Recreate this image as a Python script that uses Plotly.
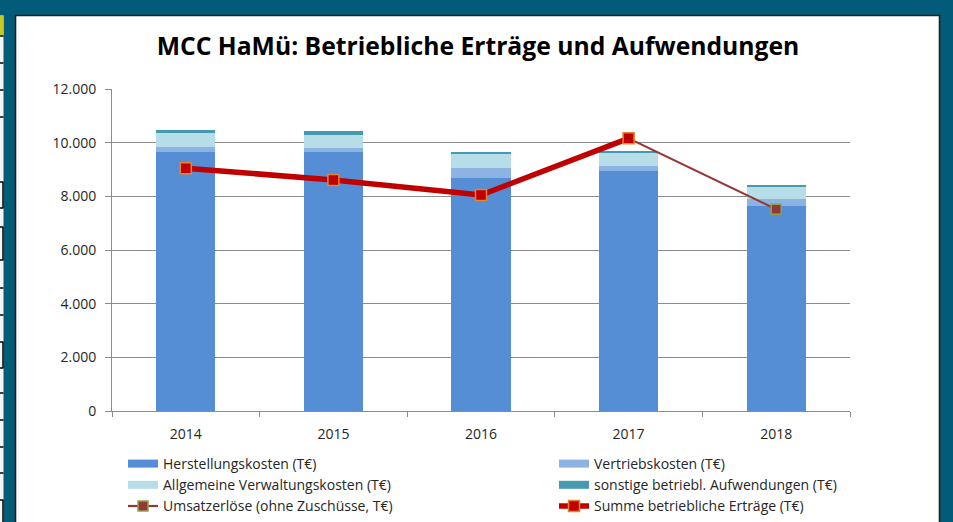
import plotly.graph_objects as go

# ---------------- data ----------------
years = ["2014", "2015", "2016", "2017", "2018"]
herstellung = [9660, 9650, 8680, 8960, 7650]
vertrieb = [190, 160, 390, 170, 250]
verwaltung = [520, 490, 530, 520, 460]
sonstige = [100, 120, 50, 10, 50]
umsatz = [9050, 8610, 8050, 10160, 7520]
summe = [9050, 8610, 8050, 10160, None]

y_ticks = [0, 2000, 4000, 6000, 8000, 10000, 12000]

# ---------------- geometry helpers (pixels -> paper) ----------------
W, H = 953, 522
L, R, T, B = 112, 850, 89, 411


def px(x):
    return (x - L) / (R - L)


def py(y):
    return (B - y) / (B - T)


FONT = "Open Sans"
TXT = "#262626"
GRID = "#8c8c8c"

fig = go.Figure()

bar_specs = [
    ("Herstellungskosten (T€)", herstellung, "#558ED5", "legend"),
    ("Vertriebskosten (T€)", vertrieb, "#8DB3E2", "legend2"),
    ("Allgemeine Verwaltungskosten (T€)", verwaltung, "#B7DEE8", "legend"),
    ("sonstige betriebl. Aufwendungen (T€)", sonstige, "#4599B1", "legend2"),
]
for name, vals, col, leg in bar_specs:
    fig.add_trace(go.Bar(
        x=years, y=vals, name=name, marker=dict(color=col, line=dict(width=0)),
        showlegend=False, legendgroup=name,
    ))
    # legend-only entry drawn as a wide flat swatch (like the Excel legend)
    fig.add_trace(go.Scatter(
        x=[years[0]], y=[None], name=name, mode="lines", legendgroup=name,
        line=dict(color=col, width=8), legend=leg, hoverinfo="skip",
    ))

fig.add_trace(go.Scatter(
    x=years, y=umsatz, name="Umsatzerlöse (ohne Zuschüsse, T€)", mode="lines+markers",
    line=dict(color="#953735", width=2.2),
    marker=dict(symbol="square", size=10, color="#953735", line=dict(color="#8FA44A", width=1.5)),
    legend="legend",
))
fig.add_trace(go.Scatter(
    x=years, y=summe, name="Summe betriebliche Erträge (T€)", mode="lines+markers",
    line=dict(color="#C00000", width=5.5),
    marker=dict(symbol="square", size=11, color="#C00000", line=dict(color="#E4852E", width=1.5)),
    legend="legend2", connectgaps=False,
))

# ---------------- decorative frame ----------------
shapes = []
shapes.append(dict(type="rect", xref="paper", yref="paper", layer="below",
                   x0=px(15.5), x1=px(939.5), y0=py(540), y1=py(15.5),
                   fillcolor="white", line=dict(color="#1e1e1e", width=1.6)))
shapes.append(dict(type="rect", xref="paper", yref="paper", layer="below",
                   x0=px(-2), x1=px(3.5), y0=py(540), y1=py(15.5),
                   fillcolor="#f4f4f4", line=dict(width=0)))
shapes.append(dict(type="rect", xref="paper", yref="paper", layer="below",
                   x0=px(-2), x1=px(3.5), y0=py(35), y1=py(15.5),
                   fillcolor="#C8C81E", line=dict(width=0)))
for yy in [36, 63, 90, 117, 182, 208, 227, 260, 288, 315, 342, 368, 393, 420, 447, 473, 500]:
    shapes.append(dict(type="line", xref="paper", yref="paper", layer="below",
                       x0=px(-2), x1=px(3.5), y0=py(yy), y1=py(yy),
                       line=dict(color="#111111", width=1.6)))
for y0, y1 in [(182, 208), (227, 260), (342, 368), (500, 540)]:
    shapes.append(dict(type="line", xref="paper", yref="paper", layer="below",
                       x0=px(3), x1=px(3), y0=py(y0), y1=py(y1),
                       line=dict(color="#111111", width=1.6)))

fig.update_layout(
    width=W, height=H,
    margin=dict(l=L, r=W - R, t=T, b=H - B, pad=0, autoexpand=False),
    paper_bgcolor="#025B78",
    plot_bgcolor="rgba(0,0,0,0)",
    separators=",.",
    barmode="stack",
    bargap=0.6,
    font=dict(family=FONT, size=14, color=TXT),
    title=dict(text="<b>MCC HaMü: Betriebliche Erträge und Aufwendungen</b>",
               x=478 / W, xanchor="center", y=1 - 46 / H, yanchor="middle",
               font=dict(family=FONT, size=24.7, color="#000000")),
    shapes=shapes,
    showlegend=True,
    legend=dict(x=px(123), y=py(448), xanchor="left", yanchor="top",
                orientation="v", traceorder="normal", bgcolor="rgba(0,0,0,0)",
                font=dict(family=FONT, size=14, color=TXT), itemwidth=30),
    legend2=dict(x=px(554), y=py(448), xanchor="left", yanchor="top",
                 orientation="v", traceorder="normal", bgcolor="rgba(0,0,0,0)",
                 font=dict(family=FONT, size=14, color=TXT), itemwidth=30),
    xaxis=dict(
        showline=True, linecolor=GRID, linewidth=1,
        ticks="outside", ticklen=5, tickcolor=GRID, tickson="boundaries",
        showgrid=False, tickfont=dict(family=FONT, size=14, color=TXT),
        range=[-0.5, 4.5], ticklabelstandoff=10, automargin=False,
    ),
    yaxis=dict(
        range=[0, 12000], tickvals=y_ticks, tickformat=",d",
        showline=True, linecolor=GRID, linewidth=1,
        ticks="outside", ticklen=6, tickcolor=GRID,
        showgrid=True, gridcolor=GRID, gridwidth=1, zeroline=False,
        tickfont=dict(family=FONT, size=14, color=TXT),
        ticklabelstandoff=6, automargin=False,
    ),
)

fig.write_html("out.html", config={"displayModeBar": False},
               post_script="document.body.style.margin='0';document.body.style.overflow='hidden';")
